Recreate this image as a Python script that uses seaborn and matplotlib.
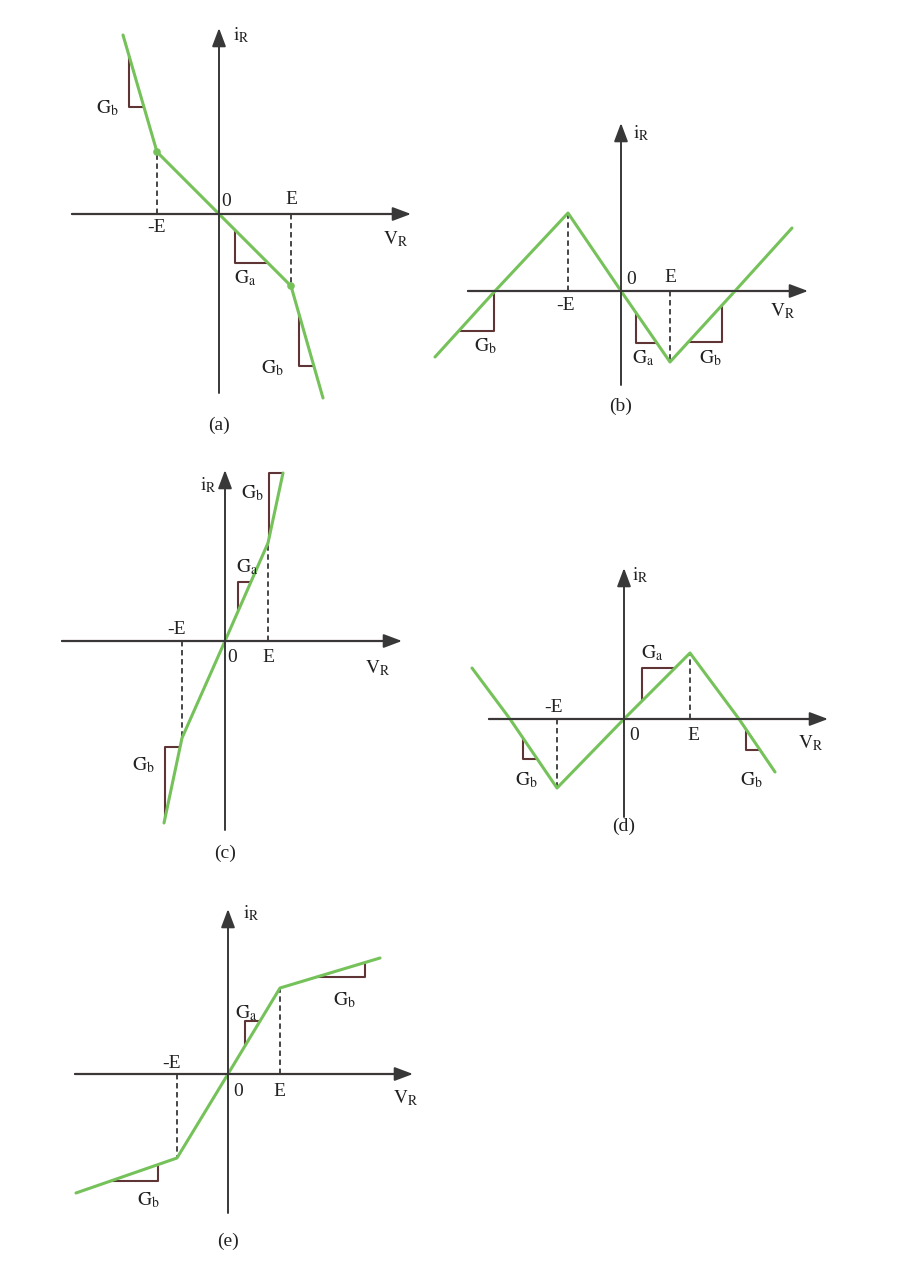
import numpy as np
import matplotlib
matplotlib.use("Agg")
import matplotlib.pyplot as plt
import seaborn as sns

# i-V curves of the piecewise-linear resistor, offsets from the origin (y up)
a_v = [-96, -62, 0, 72, 104]
a_i = [179, 62, 0, -72, -184]
b_v = [-186, -126, -53, 0, 49, 114, 171]
b_i = [-66, 0, 78, 0, -71, 0, 63]
c_v = [-61, -43, 0, 43, 58]
c_i = [-182, -97, 0, 98, 168]
d_v = [-152, -114, -67, 0, 66, 115, 151]
d_i = [51, 0, -69, 0, 66, 0, -53]
e_v = [-152, -51, 0, 52, 152]
e_i = [-119, -84, 0, 86, 116]

# break points (-E, E)
a_E = [-62, 72]
b_E = [-53, 49]
c_E = [-43, 43]
d_E = [-67, 66]
e_E = [-51, 52]

# slope triangles: (x1, x2, corner, label, label x, label y)
a_tri = [(-90, -75, "a", "b", -112, 106), (16, 49, "a", "a", 26, -64), (80, 95, "a", "b", 53, -154)]
b_tri = [(-162, -127, "b", "b", -136, -55), (15, 36, "a", "a", 22, -67), (67, 101, "b", "b", 89, -67)]
c_tri = [(44, 58, "a", "b", 27, 148), (13, 26, "a", "a", 22, 74), (-60, -45, "a", "b", -82, -124)]
d_tri = [(-101, -87, "a", "b", -98, -61), (18, 51, "a", "a", 28, 66), (122, 136, "a", "b", 127, -61)]
e_tri = [(88, 137, "b", "b", 116, 74), (17, 32, "a", "a", 18, 61), (-118, -70, "b", "b", -80, -126)]

# layout: origin in figure pixels, axis extents, tick label spots
panels = [
    dict(name="(a)", v=a_v, i=a_i, E=a_E, tri=a_tri, org=(219, 214), hx=(-147, 192), vy=(-179, 186),
         zero=(7, 13), Ep=(72, 14), mE=(-62, -14), VR=(177, -25), iR=(22, 179), cap=-211, dots=True),
    dict(name="(b)", v=b_v, i=b_i, E=b_E, tri=b_tri, org=(621, 291), hx=(-153, 187), vy=(-94, 168),
         zero=(10, 12), Ep=(49, 14), mE=(-55, -15), VR=(162, -20), iR=(20, 158), cap=-115, dots=False),
    dict(name="(c)", v=c_v, i=c_i, E=c_E, tri=c_tri, org=(225, 641), hx=(-163, 177), vy=(-189, 171),
         zero=(7, -16), Ep=(43, -16), mE=(-48, 11), VR=(153, -27), iR=(-17, 156), cap=-212, dots=False),
    dict(name="(d)", v=d_v, i=d_i, E=d_E, tri=d_tri, org=(624, 719), hx=(-135, 204), vy=(-98, 151),
         zero=(10, -16), Ep=(69, -16), mE=(-70, 11), VR=(187, -24), iR=(16, 144), cap=-107, dots=False),
    dict(name="(e)", v=e_v, i=e_i, E=e_E, tri=e_tri, org=(228, 1074), hx=(-153, 185), vy=(-139, 165),
         zero=(10, -18), Ep=(51, -18), mE=(-56, 10), VR=(178, -24), iR=(23, 161), cap=-167, dots=False),
]

W, H = 903, 1274
green = "#76c25a"
brown = "#5e3434"
dark = "#383838"

sns.set_style("white")
plt.rcParams["font.family"] = ["Liberation Serif", "DejaVu Serif"]
plt.rcParams["mathtext.fontset"] = "stix"

fig = plt.figure(figsize=(W / 100, H / 100), dpi=100)
fig.patch.set_facecolor("white")

L, R, B, T = -200, 220, -230, 200
fs = 14
arrow = dict(arrowstyle="-|>,head_length=0.8,head_width=0.3", color=dark, lw=1.4,
             mutation_scale=14, shrinkA=0, shrinkB=0)

for p in panels:
    ox, oy = p["org"]
    ax = fig.add_axes([(ox + L) / W, (H - oy + B) / H, (R - L) / W, (T - B) / H])
    ax.set_xlim(L, R)
    ax.set_ylim(B, T)
    ax.axis("off")
    ax.patch.set_alpha(0)

    # axes with arrows (dark heads, reddish horizontal shaft)
    ax.annotate("", xy=(p["hx"][1], 0), xytext=(p["hx"][0], 0), arrowprops=arrow)
    ax.plot([p["hx"][0], p["hx"][1] - 14], [0, 0], color=brown, lw=1.6)
    ax.annotate("", xy=(0, p["vy"][1]), xytext=(0, p["vy"][0]), arrowprops=arrow)

    v = np.array(p["v"], dtype=float)
    i = np.array(p["i"], dtype=float)

    # dashed drop lines at -E and E
    for xe in p["E"]:
        ax.plot([xe, xe], [0, np.interp(xe, v, i)], color=dark, lw=1.3, ls=(0, (3, 2)))

    # slope triangles
    for x1, x2, corner, sub, lx, ly in p["tri"]:
        y1, y2 = np.interp(x1, v, i), np.interp(x2, v, i)
        cx, cy = (x1, y2) if corner == "a" else (x2, y1)
        ax.plot([x1, cx, x2], [y1, cy, y2], color=brown, lw=1.5)
        ax.text(lx, ly, r"$\mathrm{G}_\mathrm{%s}$" % sub, fontsize=fs, ha="center", va="center", color="#222222")

    sns.lineplot(x=v, y=i, sort=False, estimator=None, color=green, lw=2.2, ax=ax)
    if p["dots"]:
        sns.scatterplot(x=[v[1], v[3]], y=[i[1], i[3]], color=green, s=30, edgecolor="none", ax=ax, zorder=5)

    ax.text(*p["zero"], "0", fontsize=fs, ha="center", va="center", color="#222222")
    ax.text(*p["Ep"], "E", fontsize=fs, ha="center", va="center", color="#222222")
    ax.text(*p["mE"], "-E", fontsize=fs, ha="center", va="center", color="#222222")
    ax.text(*p["VR"], r"$\mathrm{V}_\mathrm{R}$", fontsize=fs, ha="center", va="center", color="#222222")
    ax.text(*p["iR"], r"$\mathrm{i}_\mathrm{R}$", fontsize=fs, ha="center", va="center", color="#222222")
    ax.text(0, p["cap"], p["name"], fontsize=fs, ha="center", va="center", color="#222222")

fig.savefig("out.png", dpi=100, facecolor="white")
